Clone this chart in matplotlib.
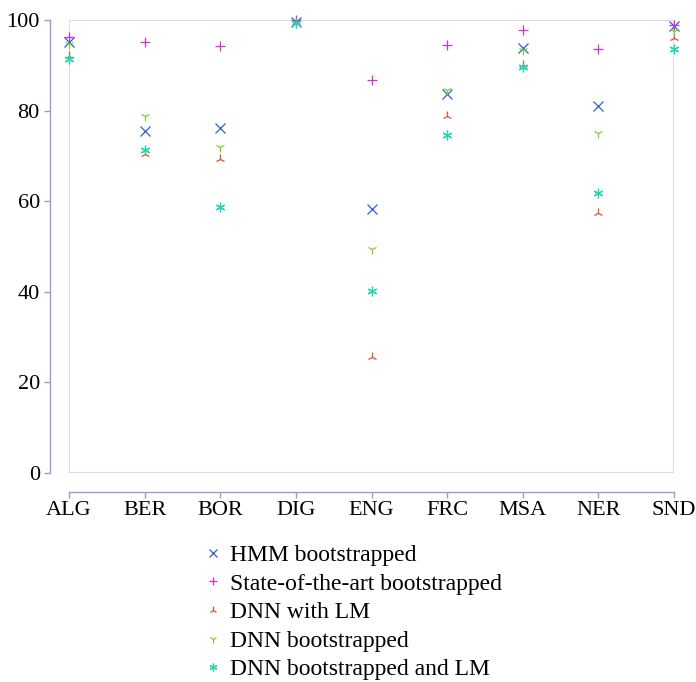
import matplotlib
matplotlib.use("Agg")
import matplotlib.pyplot as plt
from matplotlib.patches import Rectangle
import numpy as np

categories = ["ALG", "BER", "BOR", "DIG", "ENG", "FRC", "MSA", "NER", "SND"]

hmm_boot = [95.2, 75.5, 76.1, 99.5, 58.3, 83.6, 93.9, 81.0, 98.7]
sota_boot = [96.3, 95.1, 94.3, 99.9, 86.7, 94.5, 97.9, 93.5, 98.9]
dnn_lm = [92.0, 70.4, 69.3, 99.5, 25.7, 78.8, 90.1, 57.5, 96.0]
dnn_boot = [94.6, 78.8, 72.0, 99.3, 49.4, 84.5, 93.4, 75.1, 97.6]
dnn_boot_lm = [91.3, 71.2, 58.8, 99.3, 40.2, 74.6, 89.7, 61.7, 93.6]

series = [
    ("HMM bootstrapped", hmm_boot, "x", "#2b5fd9"),
    ("State-of-the-art bootstrapped", sota_boot, "+", "#d42ed4"),
    ("DNN with LM", dnn_lm, "2", "#e0502a"),
    ("DNN bootstrapped", dnn_boot, "1", "#80d02a"),
    ("DNN bootstrapped and LM", dnn_boot_lm, (6, 2, 0), "#22d6b0"),
]

plt.rcParams["font.family"] = ["Liberation Serif", "DejaVu Serif"]

fig = plt.figure(figsize=(6.96, 6.82), dpi=100)
ax = fig.add_axes([69 / 696, 209 / 682, 605 / 696, 453 / 682])

x = np.arange(len(categories))
handles = []
for label, vals, marker, color in series:
    h, = ax.plot(x, vals, linestyle="none", marker=marker, markersize=7,
                 markeredgewidth=0.9, color=color, label=label, clip_on=False)
    handles.append(h)

ax.set_xlim(0, len(categories) - 1)
ax.set_ylim(0, 100)

# left/bottom axis lines sit apart from the light frame round the data
spine_col = "#9a9ad4"
frame_col = "#d4d4f0"
for s in ["top", "right"]:
    ax.spines[s].set_visible(False)
ax.spines["left"].set_position(("outward", 14))
ax.spines["bottom"].set_position(("outward", 14))
ax.spines["left"].set_color(spine_col)
ax.spines["bottom"].set_color(spine_col)
ax.spines["left"].set_linewidth(1.0)
ax.spines["bottom"].set_linewidth(1.0)
ax.add_patch(Rectangle((0, 0), 1, 1, transform=ax.transAxes, fill=False,
                       edgecolor=frame_col, linewidth=1.2, zorder=0))

ax.set_xticks(x)
ax.set_xticklabels(categories)
ax.set_yticks([0, 20, 40, 60, 80, 100])
ax.tick_params(axis="both", colors=spine_col, labelcolor="black",
               labelsize=16, length=4, width=1.0, direction="out")
ax.tick_params(axis="y", pad=3)
ax.tick_params(axis="x", pad=2)

leg = fig.legend(handles=handles, loc="upper left",
                 bbox_to_anchor=(196 / 696, 1 - 535 / 682),
                 frameon=False, fontsize=17, handlelength=0.6,
                 handletextpad=0.45, labelspacing=0.3, markerscale=0.8,
                 borderaxespad=0)

fig.savefig("out.png", dpi=100)
